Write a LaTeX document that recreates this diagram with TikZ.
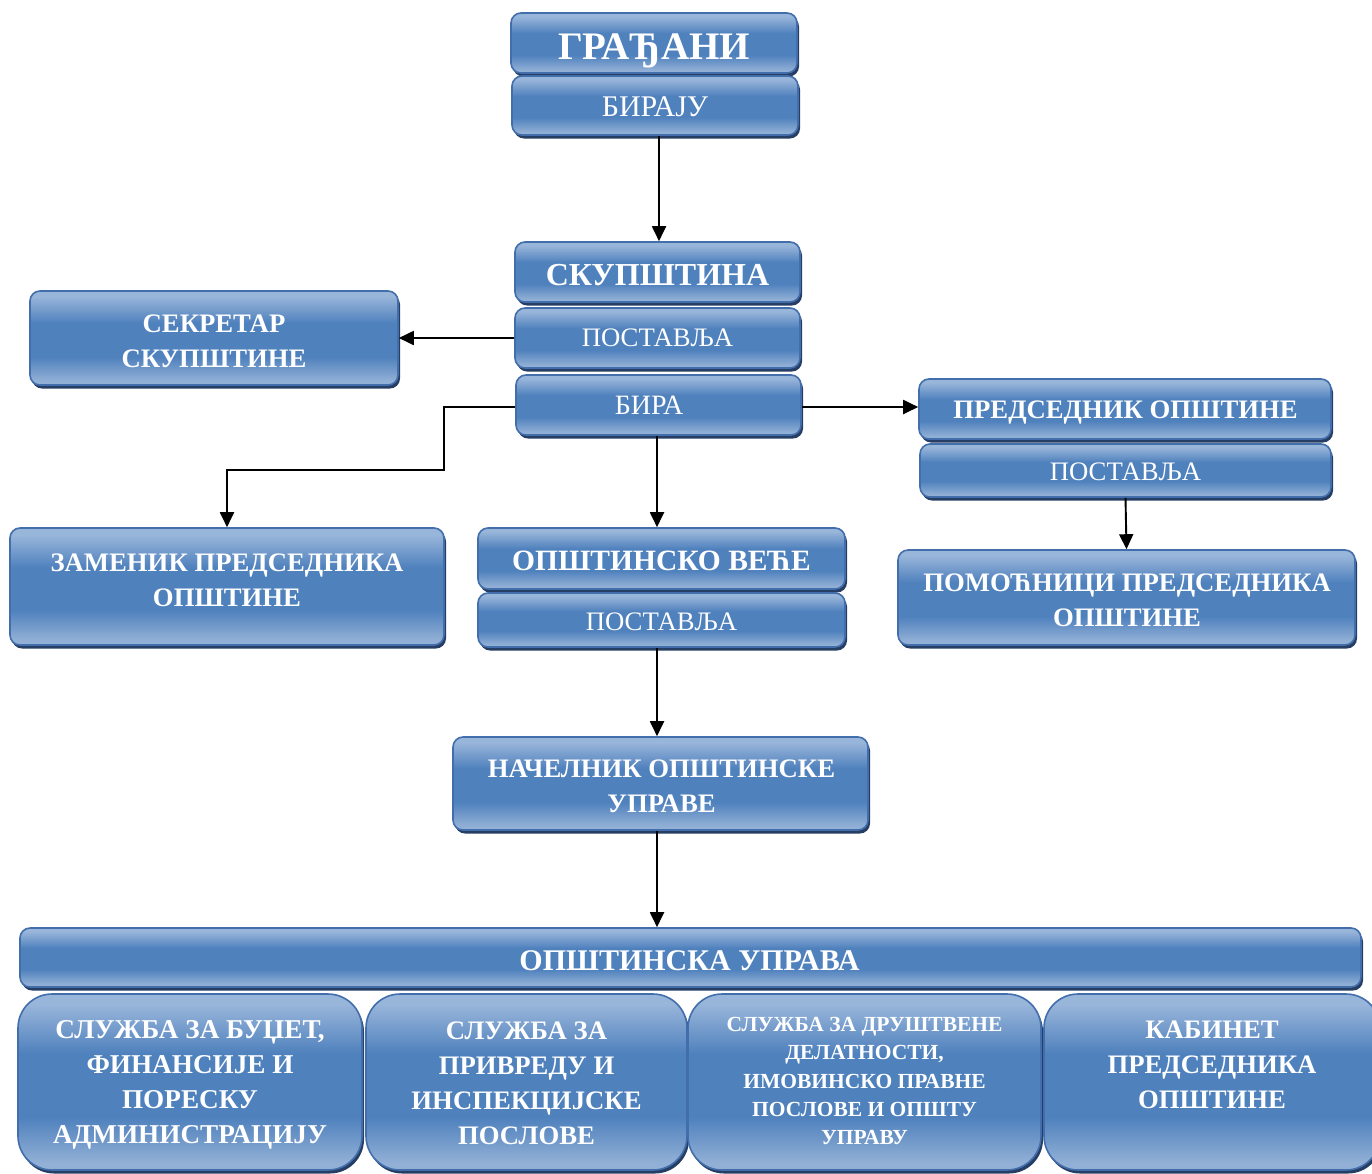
\documentclass[tikz,border=0pt]{standalone}
\usepackage{fontspec}
\setmainfont{Liberation Serif}
\usetikzlibrary{arrows.meta,shadows,calc}
\definecolor{lt}{RGB}{152,181,218}
\definecolor{lb}{RGB}{146,176,214}
\definecolor{mb}{RGB}{79,129,189}
\definecolor{bordc}{RGB}{66,110,172}
\definecolor{shc}{RGB}{38,62,100}
\pgfdeclareverticalshading{boxshade}{100bp}{color(0bp)=(lb); color(27bp)=(lb); color(40bp)=(mb); color(58bp)=(mb); color(72bp)=(lt); color(100bp)=(lt)}
\tikzset{
  bx/.style={draw=bordc, line width=1.6pt, rounded corners=10pt, shade, shading=boxshade,
    drop shadow={shadow xshift=2pt, shadow yshift=-3.5pt, fill=shc, opacity=1},
    inner sep=0pt},
  big/.style={bx, rounded corners=34pt},
  tx/.style={text=white, inner sep=0pt, align=center, font=\bfseries\fontsize{26.7}{35}\selectfont},
  thin/.style={tx, font=\fontsize{26.7}{35}\selectfont},
  arr/.style={line width=1.9pt, -{Triangle[length=15pt,width=14pt]}}
}
\begin{document}
\begin{tikzpicture}[x=1pt,y=-1pt]
\useasboundingbox (0,0) rectangle (1372,1173);
% boxes
\node[bx, minimum width=286pt, minimum height=60pt] (gr) at (654,43) {};
\node[bx, minimum width=286pt, minimum height=59pt] (bir) at (655,105.5) {};
\node[bx, minimum width=285pt, minimum height=60pt] (sk) at (657.5,272) {};
\node[bx, minimum width=285pt, minimum height=60pt] (pos1) at (657.5,338) {};
\node[bx, minimum width=285pt, minimum height=60pt] (bira) at (658.5,405) {};
\node[bx, minimum width=368pt, minimum height=94pt] (sek) at (214,338) {};
\node[bx, minimum width=412pt, minimum height=60pt] (pred) at (1125,409) {};
\node[bx, minimum width=411pt, minimum height=53pt] (pos2) at (1125.5,470.5) {};
\node[bx, minimum width=457pt, minimum height=95pt] (pom) at (1126.5,597.5) {};
\node[bx, minimum width=434pt, minimum height=117pt] (zam) at (227,586.5) {};
\node[bx, minimum width=367pt, minimum height=61pt] (vece) at (661.5,558.5) {};
\node[bx, minimum width=367pt, minimum height=54pt] (pos3) at (661.5,620) {};
\node[bx, minimum width=415pt, minimum height=93pt] (nac) at (660.5,783.5) {};
\node[bx, minimum width=1341pt, minimum height=59pt] (upr) at (690.5,957.5) {};
\node[big, minimum width=344pt, minimum height=176pt] (sa) at (190,1082) {};
\node[big, minimum width=321pt, minimum height=176pt] (sb) at (526.5,1082) {};
\node[big, minimum width=353pt, minimum height=176pt] (sc) at (864.5,1082) {};
\node[big, minimum width=336pt, minimum height=176pt] (sd) at (1212,1082) {};
% texts
\node[tx, font=\bfseries\fontsize{39}{42}\selectfont] (gr-t) at ($(gr)+(0,8)$) {ГРАЂАНИ};
\node[thin, font=\fontsize{30}{34}\selectfont] (bir-t) at ($(bir)+(0,1)$) {БИРАЈУ};
\node[tx, font=\bfseries\fontsize{32}{36}\selectfont] (sk-t) at ($(sk)+(0,3)$) {СКУПШТИНА};
\node[thin] (pos1-t) at ($(pos1)+(0,0)$) {ПОСТАВЉА};
\node[thin, font=\fontsize{28}{32}\selectfont] (bira-t) at ($(bira)+(-9.5,0)$) {БИРА};
\node[tx] (sek-t) at ($(sek)+(0,3)$) {СЕКРЕТАР\\СКУПШТИНЕ};
\node[tx] (pred-t) at ($(pred)+(0.5,4)$) {ПРЕДСЕДНИК ОПШТИНЕ};
\node[thin] (pos2-t) at ($(pos2)+(0,1)$) {ПОСТАВЉА};
\node[tx] (pom-t) at ($(pom)+(0.5,3)$) {ПОМОЋНИЦИ ПРЕДСЕДНИКА\\ОПШТИНЕ};
\node[tx] (zam-t) at ($(zam)+(0,-6)$) {ЗАМЕНИК ПРЕДСЕДНИКА\\ОПШТИНЕ};
\node[tx, font=\bfseries\fontsize{29.5}{33}\selectfont] (vece-t) at ($(vece)+(0,2)$) {ОПШТИНСКО ВЕЋЕ};
\node[thin] (pos3-t) at ($(pos3)+(0,2)$) {ПОСТАВЉА};
\node[tx] (nac-t) at ($(nac)+(1,3)$) {НАЧЕЛНИК ОПШТИНСКЕ\\УПРАВЕ};
\node[tx, font=\bfseries\fontsize{30}{34}\selectfont] (upr-t) at ($(upr)+(-1,3)$) {ОПШТИНСКА УПРАВА};
\node[tx, font=\bfseries\fontsize{27.2}{35}\selectfont] (sa-t) at ($(sa)+(0,3)$) {СЛУЖБА ЗА БУЏЕТ,\\ФИНАНСИЈЕ И\\ПОРЕСКУ\\АДМИНИСТРАЦИЈУ};
\node[tx] (sb-t) at ($(sb)+(0,1)$) {СЛУЖБА ЗА\\ПРИВРЕДУ И\\ИНСПЕКЦИЈСКЕ\\ПОСЛОВЕ};
\node[tx, font=\bfseries\fontsize{21.5}{28.3}\selectfont] (sc-t) at ($(sc)+(0,-1)$) {СЛУЖБА ЗА ДРУШТВЕНЕ\\ДЕЛАТНОСТИ,\\ИМОВИНСКО ПРАВНЕ\\ПОСЛОВЕ И ОПШТУ\\УПРАВУ};
\node[tx] (sd-t) at ($(sd)+(0,-17)$) {КАБИНЕТ\\ПРЕДСЕДНИКА\\ОПШТИНЕ};
% connectors
\coordinate (ax) at (657,0);
\coordinate (ax2) at (659,0);
\coordinate (ay) at (0,407);
\coordinate (e1) at (444,470);
\draw[arr] (ax2 |- bir.south) -- (ax2 |- sk.north);
\draw[arr] (pos1.west) -- (pos1.west -| sek.east);
\draw[arr] (bira.east |- ay) -- (pred.west |- ay);
\draw[arr] (bira.west |- ay) -| (e1) -| (zam.north);
\draw[arr] (ax |- bira.south) -- (ax |- vece.north);
\draw[arr] (pos2.south) -- (pom.north);
\draw[arr] (ax |- pos3.south) -- (ax |- nac.north);
\draw[arr] (ax |- nac.south) -- (ax |- upr.north);
\end{tikzpicture}
\end{document}
